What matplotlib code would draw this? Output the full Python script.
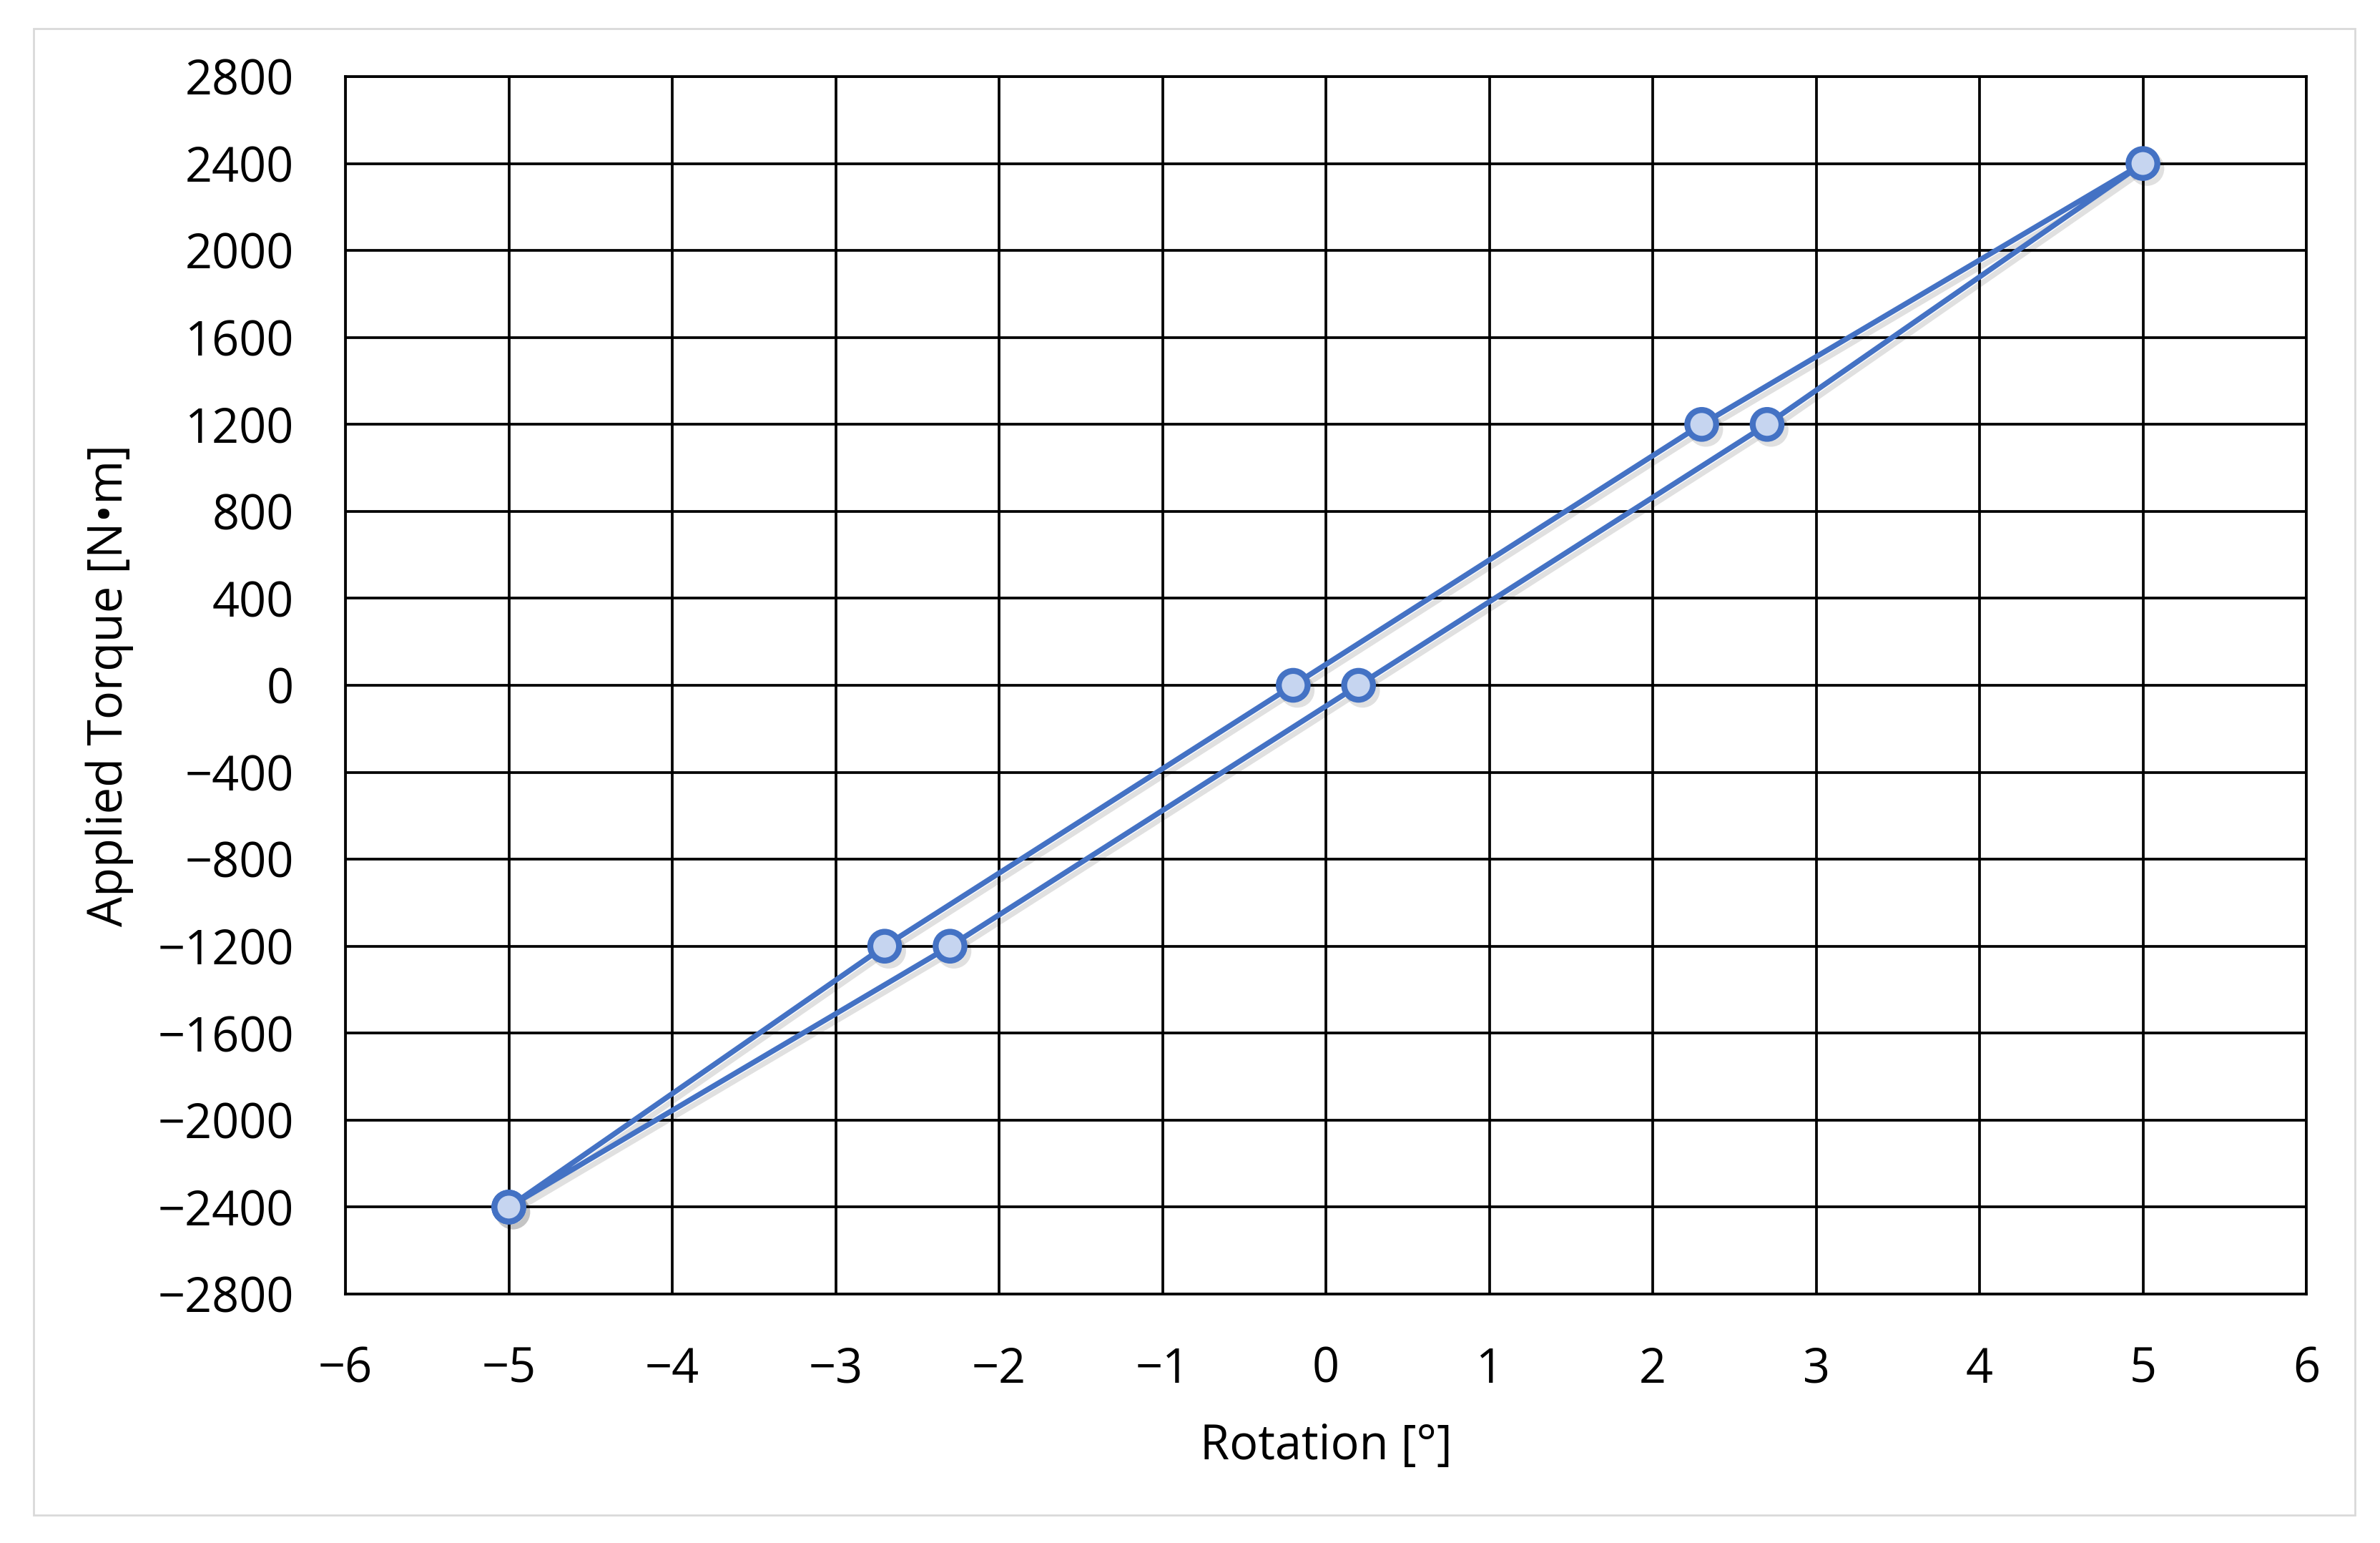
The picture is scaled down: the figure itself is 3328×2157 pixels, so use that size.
import matplotlib
matplotlib.use("Agg")
import matplotlib.pyplot as plt
import matplotlib.patheffects as pe
from matplotlib.patches import Rectangle

# Data (closed hysteresis loop)
rotation = [-5.0, -2.7, -0.2, 2.3, 5.0, 2.7, 0.2, -2.3, -5.0]
torque = [-2400, -1200, 0, 1200, 2400, 1200, 0, -1200, -2400]

x_ticks = [-6, -5, -4, -3, -2, -1, 0, 1, 2, 3, 4, 5, 6]
y_ticks = [-2800, -2400, -2000, -1600, -1200, -800, -400, 0, 400, 800, 1200, 1600, 2000, 2400, 2800]

x_label = "Rotation [°]"
y_label = "Applied Torque [N•m]"

plt.rcParams['font.family'] = ['Open Sans', 'DejaVu Sans']

W, H, DPI = 3328, 2157, 200
fig = plt.figure(figsize=(W / DPI, H / DPI), dpi=DPI)
fig.patch.set_facecolor('white')

# outer light-gray frame
fig.patches.append(Rectangle((47 / W, 1 - 2118 / H), (3293 - 47) / W, (2118 - 40) / H,
                             transform=fig.transFigure, fill=False,
                             edgecolor='#d9d9d9', linewidth=1.0, zorder=0))

left, right, top, bottom = 483, 3225, 107, 1809
ax = fig.add_axes([left / W, 1 - bottom / H, (right - left) / W, (bottom - top) / H])

ax.set_xlim(-6, 6)
ax.set_ylim(-2800, 2800)
ax.set_xticks(x_ticks)
ax.set_yticks(y_ticks)
ax.set_xticklabels([str(v).replace('-', '\u2212') for v in x_ticks])
ax.set_yticklabels([str(v).replace('-', '\u2212') for v in y_ticks])
ax.grid(True, color='black', linewidth=1.35)
ax.set_axisbelow(True)
for s in ax.spines.values():
    s.set_color('black')
    s.set_linewidth(1.35)
ax.tick_params(length=0, labelsize=24, pad=26, colors='black')

ax.plot(rotation, torque, color='#4472c4', linewidth=2.7, marker='o',
        markersize=14.5, markerfacecolor='#c6d5f0', markeredgecolor='#4472c4',
        markeredgewidth=3.0, zorder=5, clip_on=False,
        path_effects=[pe.SimpleLineShadow(offset=(2.0, -2.5), shadow_color='black', alpha=0.12),
                      pe.Normal()])

ax.set_xlabel(x_label, fontsize=24, va='center')
ax.xaxis.set_label_coords(0.5, (bottom - 2022) / (bottom - top))
ax.set_ylabel(y_label, fontsize=24, va='center')
ax.yaxis.set_label_coords((153 - left) / (right - left), 0.5)

fig.savefig("out.png", dpi=DPI, facecolor='white')
